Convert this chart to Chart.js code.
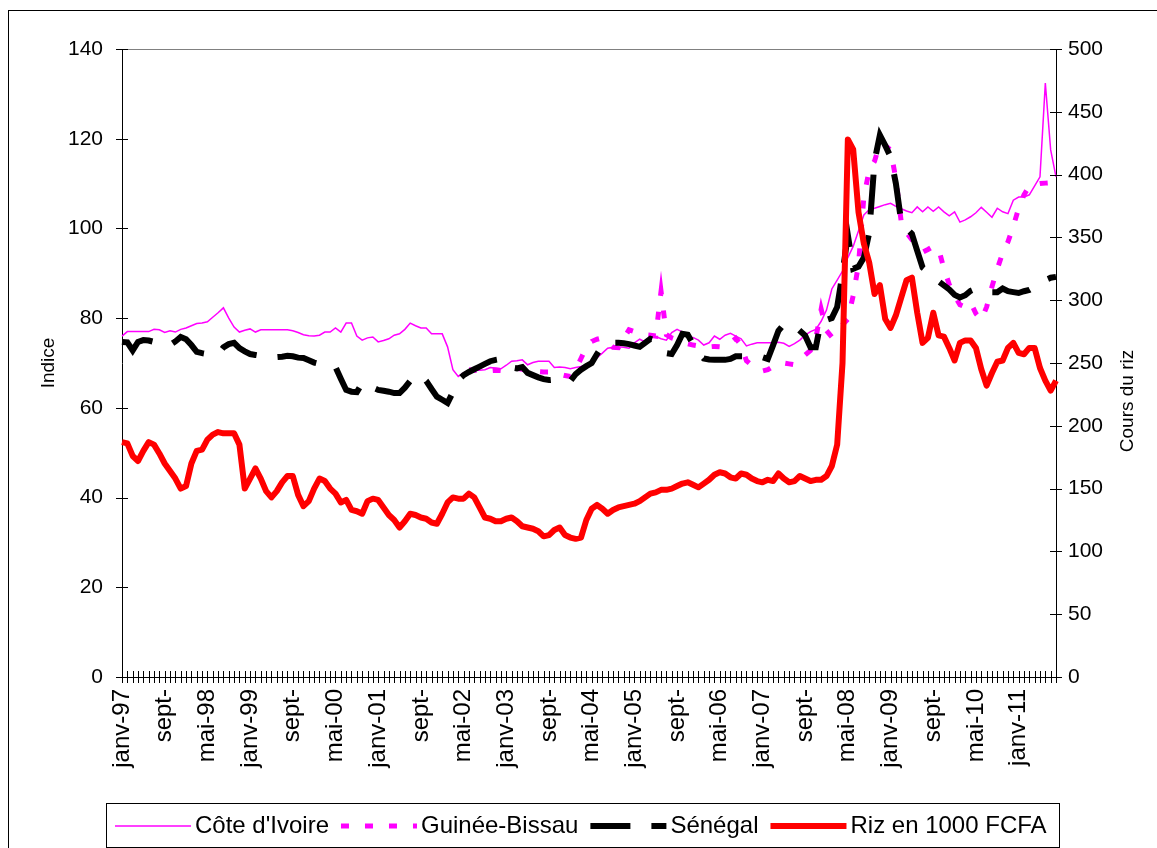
<!DOCTYPE html>
<html lang="fr">
<head>
<meta charset="UTF-8">
<title>Indices et cours du riz</title>
<script src="https://cdn.jsdelivr.net/npm/chart.js"></script>
<style>
  html, body { margin: 0; padding: 0; background: #fff; }
</style>
</head>
<body>
<canvas id="myChart" width="1157" height="848"></canvas>
<script>
// monthly categories, janv-97 .. août-11
const monthNames = ['janv', 'févr', 'mars', 'avr', 'mai', 'juin', 'juil', 'août', 'sept', 'oct', 'nov', 'déc'];
const months = [];
for (let y = 1997; y <= 2011; y++) {
    for (let m = 0; m < 12; m++) {
        if (y === 2011 && m > 7) break;
        months.push(monthNames[m] + '-' + String(y).slice(2));
    }
}

// labels shown under the axis (one every 8 months)
const tickLabels = ['janv-97', 'sept-', 'mai-98', 'janv-99', 'sept-', 'mai-00', 'janv-01', 'sept-',
    'mai-02', 'janv-03', 'sept-', 'mai-04', 'janv-05', 'sept-', 'mai-06', 'janv-07', 'sept-',
    'mai-08', 'janv-09', 'sept-', 'mai-10', 'janv-11'];

const coteIvoire = [
    76.0, 77.0, 77.0, 77.0, 77.0, 77.0, 77.5, 77.4, 76.8, 77.2,
    76.9, 77.5, 77.8, 78.3, 78.8, 78.9, 79.2, 80.2, 81.2, 82.3,
    80.0, 78.0, 76.9, 77.3, 77.6, 76.9, 77.4, 77.4, 77.4, 77.4,
    77.4, 77.4, 77.2, 76.8, 76.3, 76.1, 76.0, 76.2, 76.9, 76.9,
    77.8, 76.9, 78.9, 78.9, 76.0, 75.1, 75.6, 75.8, 74.7, 75.0,
    75.4, 76.2, 76.5, 77.5, 78.9, 78.3, 77.8, 77.8, 76.5, 76.5,
    76.5, 73.6, 68.5, 67.0, 67.8, 68.4, 68.4, 68.4, 68.5, 69.0,
    68.9, 68.7, 69.5, 70.4, 70.5, 70.7, 69.6, 70.1, 70.4, 70.4,
    70.4, 69.0, 69.1, 69.0, 68.7, 69.0, 69.2, 69.5, 70.3, 71.2,
    72.2, 73.3, 73.5, 73.6, 73.5, 73.3, 74.5, 75.3, 74.7, 75.8,
    75.9, 75.4, 75.1, 76.8, 77.5, 76.9, 75.6, 75.7, 75.1, 74.0,
    74.5, 76.0, 75.3, 76.2, 76.6, 76.0, 75.4, 73.8, 74.2, 74.5,
    74.5, 74.5, 74.5, 74.6, 74.4, 73.7, 74.3, 75.1, 76.2, 77.0,
    77.5, 79.3, 81.8, 86.5, 88.5, 90.5, 93.5, 96.0, 99.5, 103.0,
    104.2, 104.5, 104.9, 105.3, 105.6, 104.9, 104.4, 103.9, 103.5, 104.8,
    103.7, 104.8, 103.8, 104.8, 103.7, 102.8, 103.7, 101.4, 101.9, 102.6,
    103.5, 104.7, 103.6, 102.5, 104.5, 103.7, 103.3, 106.3, 107.0, 107.0,
    107.5, 109.5, 111.5, 132.4, 117.5, 111.5
];

const guineeBissau = [
    null, null, null, null, null, null, null, null, null, null,
    null, null, null, null, null, null, null, null, null, null,
    null, null, null, null, null, null, null, null, null, null,
    null, null, null, null, null, null, null, null, null, null,
    null, null, null, null, null, null, null, null, null, null,
    null, null, null, null, null, null, null, null, null, null,
    null, null, null, null, null, 68.5, 68.4, 68.2, 68.1, 68.3,
    68.4, 68.3, 68.2, 68.5, 68.8, 68.6, 68.3, 68.2, 68.1, 68.0,
    68.0, 67.8, 67.5, 67.2, 67.0, 68.5, 71.0, 73.5, 74.8, 75.3,
    75.6, 74.5, 73.5, 73.4, 75.5, 77.4, 77.0, 76.5, 76.3, 76.2,
    76.0, 86.0, 76.3, 75.6, 75.2, 74.8, 74.3, 74.0, 73.8, 73.6,
    73.6, 73.7, 73.6, 73.6, 74.5, 75.5, 74.0, 70.5, 69.5, 68.8,
    68.2, 68.5, 69.2, 69.8, 70.0, 69.8, 69.6, 70.5, 71.8, 72.8,
    75.5, 82.0, 77.2, 75.8, 77.0, 78.5, 79.8, 85.0, 92.0, 107.0,
    113.0, 115.0, 119.0, 118.5, 117.5, 111.0, 101.5, 99.0, 97.5, 96.0,
    94.7, 95.3, 96.0, 95.5, 91.0, 87.5, 85.0, 83.0, 82.5, 83.5,
    81.0, 79.6, 82.5, 87.0, 91.0, 94.5, 97.0, 100.5, 104.5, 107.5,
    109.4, 109.8, 110.0, 110.1, 110.2, null
];

const senegal = [
    74.7, 74.6, 72.8, 74.7, 75.1, 75.0, 74.7, 74.4, 74.2, 74.0,
    74.8, 75.8, 75.3, 74.0, 72.5, 72.2, 72.0, 71.8, 72.0, 73.5,
    74.2, 74.5, 73.3, 72.6, 72.0, 71.8, 71.6, 71.5, 71.4, 71.3,
    71.4, 71.6, 71.5, 71.2, 71.1, 70.6, 70.1, 69.8, 69.5, 69.3,
    69.1, 66.5, 64.0, 63.6, 63.5, 65.5, 65.6, 64.5, 64.0, 63.8,
    63.6, 63.3, 63.3, 64.5, 66.0, 67.3, 67.1, 66.0, 64.2, 62.5,
    61.8, 61.1, 63.5, 66.2, 67.3, 68.0, 68.6, 69.2, 69.8, 70.4,
    70.7, 70.9, 70.0, 69.0, 68.8, 69.1, 67.8, 67.3, 66.8, 66.4,
    66.2, 66.3, 66.3, 65.9, 66.0, 67.5, 68.5, 69.3, 70.0, 72.0,
    73.8, 74.5, 74.5, 74.5, 74.4, 74.2, 73.9, 73.6, 74.5, 75.4,
    75.0, 73.3, 72.2, 72.0, 74.0, 76.5, 76.3, 74.2, 72.3, 71.0,
    70.8, 70.7, 70.7, 70.7, 70.9, 71.5, 71.5, 71.5, 71.5, 71.4,
    71.3, 70.9, 74.0, 77.2, 78.6, 78.7, 78.3, 77.2, 76.1, 73.5,
    73.5, 79.6, 79.6, 80.0, 82.5, 90.0, 98.5, 91.0, 91.5, 93.5,
    99.0, 115.0, 120.8, 118.5, 116.0, 110.0, 101.5, 100.0, 98.8, 95.0,
    91.3, 90.3, 89.3, 88.2, 87.3, 86.4, 85.2, 84.6, 85.1, 86.1,
    86.6, 86.3, 86.0, 85.8, 85.8, 86.6, 86.0, 85.8, 85.6, 86.0,
    86.3, 87.0, 87.8, 88.5, 89.0, 89.2
];

// rice price, right axis (1000 FCFA)
const riz = [
    187, 186, 176, 172, 180, 187, 185, 178, 170, 164,
    158, 150, 152, 170, 180, 181, 189, 193, 195, 194,
    194, 194, 185, 150, 158, 166, 158, 148, 143, 148,
    155, 160, 160, 145, 136, 140, 150, 158, 156, 150,
    146, 139, 141, 133, 132, 130, 140, 142, 141, 135,
    129, 125, 119, 124, 130, 129, 127, 126, 123, 122,
    130, 139, 143, 142, 142, 146, 143, 135, 127, 126,
    124, 124, 126, 127, 124, 120, 119, 118, 116, 112,
    113, 117, 119, 113, 111, 110, 111, 125, 134, 137,
    134, 130, 133, 135, 136, 137, 138, 140, 143, 146,
    147, 149, 149, 150, 152, 154, 155, 153, 151, 154,
    157, 161, 163, 162, 159, 158, 162, 161, 158, 156,
    155, 157, 156, 162, 158, 155, 156, 160, 158, 156,
    157, 157, 160, 168, 185, 250, 428, 420, 370, 345,
    330, 305, 312, 285, 278, 288, 302, 316, 318, 290,
    266, 270, 290, 272, 271, 262, 252, 266, 268, 268,
    262, 245, 232, 242, 251, 252, 262, 266, 258, 257,
    262, 262, 246, 236, 228, 236
];

const fontFamily = '"Liberation Sans", Arial, sans-serif';
Chart.defaults.font.family = fontFamily;
Chart.defaults.color = '#000';

// frame, crossing tick marks, right title and legend box like the Excel original
const excelDecor = {
    id: 'excelDecor',
    afterDraw(chart) {
        const ctx = chart.ctx;
        const a = chart.chartArea;
        const sx = chart.scales.x, sy = chart.scales.y, sy2 = chart.scales.y2;
        ctx.save();

        ctx.strokeStyle = '#000';
        ctx.lineWidth = 1;
        ctx.strokeRect(8.5, 10.5, 1300, 1000);

        ctx.strokeStyle = '#808080';
        ctx.beginPath();
        ctx.moveTo(a.left, a.top + 0.5);
        ctx.lineTo(a.right, a.top + 0.5);
        ctx.stroke();

        ctx.strokeStyle = '#000';
        ctx.beginPath();
        sy.ticks.forEach(t => {
            const py = Math.round(sy.getPixelForValue(t.value)) + 0.5;
            ctx.moveTo(a.left - 6, py);
            ctx.lineTo(a.left + 6, py);
        });
        sy2.ticks.forEach(t => {
            const py = Math.round(sy2.getPixelForValue(t.value)) + 0.5;
            ctx.moveTo(a.right - 6, py);
            ctx.lineTo(a.right + 6, py);
        });
        for (let i = 0; i < months.length; i++) {
            const px = Math.round(sx.getPixelForValue(i)) + 0.5;
            ctx.moveTo(px, a.bottom - 6);
            ctx.lineTo(px, a.bottom + 6);
        }
        ctx.stroke();

        // right axis title, reads bottom to top
        ctx.save();
        ctx.translate(1128, 401);
        ctx.rotate(-Math.PI / 2);
        ctx.font = '19px ' + fontFamily;
        ctx.fillStyle = '#000';
        ctx.textAlign = 'center';
        ctx.textBaseline = 'middle';
        ctx.fillText('Cours du riz', 0, 0);
        ctx.restore();

        // legend
        ctx.strokeStyle = '#000';
        ctx.lineWidth = 1;
        ctx.strokeRect(106.5, 803.5, 953, 44);
        ctx.font = '24px ' + fontFamily;
        ctx.textBaseline = 'middle';
        ctx.textAlign = 'left';
        let x = 115;
        const ly = 826;
        chart.data.datasets.forEach(ds => {
            ctx.save();
            ctx.strokeStyle = ds.borderColor;
            ctx.lineWidth = ds.borderWidth;
            ctx.setLineDash(ds.borderDash || []);
            ctx.beginPath();
            ctx.moveTo(x, ly);
            ctx.lineTo(x + 76, ly);
            ctx.stroke();
            ctx.restore();
            x += 80;
            ctx.fillStyle = '#000';
            ctx.fillText(ds.label, x, ly);
            x += ctx.measureText(ds.label).width + 12;
        });

        ctx.restore();
    }
};

const ctx = document.getElementById('myChart').getContext('2d');
const chart = new Chart(ctx, {
    type: 'line',
    data: {
        labels: months,
        datasets: [
            {
                label: "Côte d'Ivoire",
                data: coteIvoire,
                borderColor: '#ff00ff',
                borderWidth: 1.5,
                yAxisID: 'y',
                order: 4
            },
            {
                label: 'Guinée-Bissau',
                data: guineeBissau,
                borderColor: '#ff00ff',
                borderWidth: 5,
                borderDash: [8, 16],
                yAxisID: 'y',
                order: 3
            },
            {
                label: 'Sénégal',
                data: senegal,
                borderColor: '#000000',
                borderWidth: 6,
                borderDash: [40, 21],
                yAxisID: 'y',
                order: 2
            },
            {
                label: 'Riz en 1000 FCFA',
                data: riz,
                borderColor: '#ff0000',
                borderWidth: 6,
                borderJoinStyle: 'round',
                yAxisID: 'y2',
                order: 1
            }
        ]
    },
    options: {
        responsive: false,
        animation: false,
        layout: { padding: { top: 49, left: 0, right: 0, bottom: 0 } },
        elements: {
            point: { radius: 0, hoverRadius: 0 },
            line: { tension: 0, fill: false }
        },
        plugins: {
            legend: { display: false },
            tooltip: { enabled: false }
        },
        scales: {
            x: {
                offset: false,
                grid: { display: false, drawTicks: false },
                border: { display: true, color: '#000', width: 1 },
                ticks: {
                    autoSkip: false,
                    minRotation: 90,
                    maxRotation: 90,
                    padding: 12,
                    font: { size: 24 },
                    callback: (value, index) => index % 8 === 0 ? tickLabels[index / 8] : ''
                },
                afterFit: scale => { scale.height = 171; }
            },
            y: {
                position: 'left',
                min: 0,
                max: 140,
                grid: { display: false, drawTicks: false },
                border: { display: true, color: '#000', width: 1 },
                ticks: { stepSize: 20, padding: 19, font: { size: 21 } },
                title: {
                    display: true,
                    text: 'Indice',
                    font: { size: 19 },
                    padding: { top: 37, bottom: 0 }
                },
                afterFit: scale => { scale.width = 122; }
            },
            y2: {
                position: 'right',
                min: 0,
                max: 500,
                grid: { display: false, drawTicks: false },
                border: { display: true, color: '#000', width: 1 },
                ticks: { stepSize: 50, padding: 12, font: { size: 21 } },
                afterFit: scale => { scale.width = 101; }
            }
        }
    },
    plugins: [excelDecor]
});
</script>
</body>
</html>
